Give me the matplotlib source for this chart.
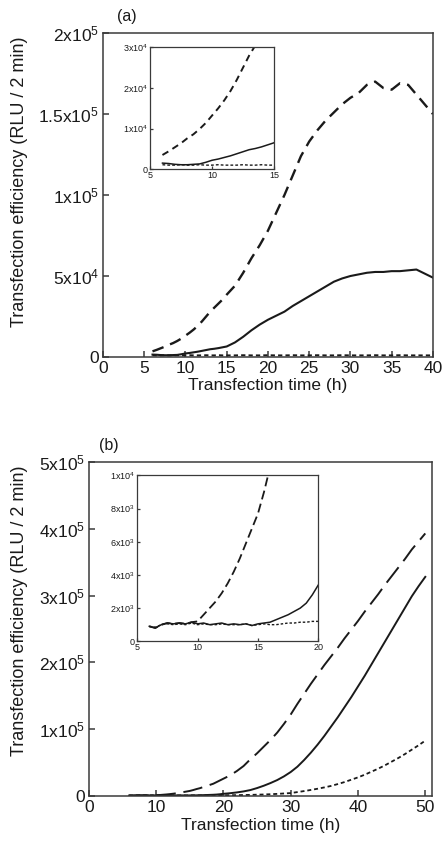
import numpy as np
import matplotlib
matplotlib.use('Agg')
import matplotlib.pyplot as plt

plt.rcParams['font.family'] = ['Liberation Sans', 'DejaVu Sans']
plt.rcParams['mathtext.fontset'] = 'custom'
plt.rcParams['mathtext.rm'] = 'Liberation Sans'
plt.rcParams['mathtext.it'] = 'Liberation Sans'

# ── Panel (a) data (RLU / 2 min, in units of 1e3) ─────────────────────────
a_time = [6, 6.5, 7, 7.5, 8, 8.5, 9, 9.5, 10, 10.5, 11, 11.5, 12, 12.5, 13, 13.5,
          14, 14.5, 15, 16, 17, 18, 19, 20, 21, 22, 23, 24, 25, 26, 27, 28, 29,
          30, 31, 32, 33, 34, 35, 36, 37, 38, 39, 40]
a_dashed = [3.5, 4.4, 5.4, 6.4, 7.6, 8.6, 9.9, 11.4, 13.2, 15.0, 17.0, 19.3, 22.0,
            25.0, 28.0, 30.5, 33.0, 35.5, 38.5, 44, 52, 61, 69, 78, 89, 100, 112,
            124, 133, 140, 146, 151, 156, 160, 163, 168, 170, 166, 165, 169, 168,
            162, 156, 150]
a_solid = [1.5, 1.4, 1.2, 1.1, 1.1, 1.2, 1.3, 1.7, 2.2, 2.5, 2.9, 3.3, 3.8, 4.3,
           4.8, 5.1, 5.5, 6.0, 6.5, 9.0, 12.5, 16.5, 20.0, 23.0, 25.5, 28.0, 31.5,
           34.5, 37.5, 40.5, 43.5, 46.5, 48.5, 50.0, 51.0, 52.0, 52.5, 52.5, 53.0,
           53.0, 53.5, 54.0, 51.5, 49.0]
a_dotted = [1.1, 1.0, 1.0, 1.1, 1.0, 1.0, 1.1, 1.0, 1.0, 1.1, 1.0, 1.0, 1.0, 1.1,
            1.0, 1.0, 1.1, 1.0, 1.0, 1.0, 1.1, 1.0, 1.0, 1.1, 1.0, 1.0, 1.1, 1.0,
            1.0, 1.1, 1.0, 1.0, 1.1, 1.0, 1.0, 1.0, 1.1, 1.0, 1.0, 1.1, 1.0, 1.0,
            1.0, 1.0]

a_yticks = [0, 50e3, 100e3, 150e3, 200e3]
a_ylabels = ['0', r'5x10$^4$', r'1x10$^5$', r'1.5x10$^5$', r'2x10$^5$']
a_xticks = [0, 5, 10, 15, 20, 25, 30, 35, 40]
a_in_yticks = [0, 10e3, 20e3, 30e3]
a_in_ylabels = ['0', r'1x10$^4$', r'2x10$^4$', r'3x10$^4$']
a_in_xticks = [5, 10, 15]

# ── Panel (b) data ────────────────────────────────────────────────────────
b_time = [6, 6.5, 7, 7.5, 8, 8.5, 9, 9.5, 10, 10.5, 11, 11.5, 12, 12.5, 13, 13.5,
          14, 14.5, 15, 15.5, 16, 16.5, 17, 17.5, 18, 18.5, 19, 19.5, 20,
          21, 22, 23, 24, 25, 26, 27, 28, 29, 30, 31, 32, 33, 34, 35, 36, 37, 38,
          39, 40, 41, 42, 43, 44, 45, 46, 47, 48, 49, 50]
b_dashed = [0.9, 0.8, 1.0, 1.1, 1.05, 1.1, 1.05, 1.15, 1.2, 1.6, 2.0, 2.4, 2.9,
            3.5, 4.2, 5.0, 5.9, 6.8, 7.7, 9.0, 10.5, 11.8, 13.5, 15.0, 16.8, 18.5,
            21.0, 23.5, 26.0,
            31, 37.5, 45, 55, 64, 74, 84, 95, 108, 122, 138, 153, 168, 182, 196,
            209, 222, 236, 249, 262, 276, 289, 302, 316, 329, 342, 355, 369, 381,
            393]
b_solid = [0.9, 0.8, 1.0, 1.1, 1.05, 1.1, 1.05, 1.15, 1.05, 1.1, 1.0, 1.05, 1.1,
           1.0, 1.05, 1.0, 1.05, 0.95, 1.05, 1.1, 1.15, 1.3, 1.45, 1.6, 1.8, 2.0,
           2.3, 2.8, 3.4,
           4.3, 5.5, 7.0, 9.0, 12.0, 15.5, 19.5, 24.0, 29.5, 36.0, 44.0, 54.0,
           65.0, 77.0, 90.0, 104, 118, 133, 148, 164, 180, 197, 214, 231, 248,
           265, 282, 299, 314, 328]
b_dotted = [0.9, 0.85, 1.0, 1.05, 1.0, 1.05, 1.0, 1.1, 1.0, 1.05, 1.0, 1.0, 1.05,
            1.0, 1.0, 1.0, 1.05, 0.95, 1.0, 1.05, 1.0, 1.0, 1.05, 1.1, 1.1, 1.15,
            1.15, 1.2, 1.2,
            1.3, 1.4, 1.6, 1.8, 2.1, 2.4, 2.8, 3.3, 3.9, 4.5, 6.0, 7.5, 9.2, 11.0,
            13.0, 15.2, 18.0, 21.0, 24.5, 28.0, 32.0, 36.5, 41.0, 46.0, 51.5,
            57.0, 63.0, 69.5, 76.0, 83.0]

b_yticks = [0, 100e3, 200e3, 300e3, 400e3, 500e3]
b_ylabels = ['0', r'1x10$^5$', r'2x10$^5$', r'3x10$^5$', r'4x10$^5$', r'5x10$^5$']
b_xticks = [0, 10, 20, 30, 40, 50]
b_in_yticks = [0, 2e3, 4e3, 6e3, 8e3, 10e3]
b_in_ylabels = ['0', r'2x10$^3$', r'4x10$^3$', r'6x10$^3$', r'8x10$^3$', r'1x10$^4$']
b_in_xticks = [5, 10, 15, 20]

YLABEL = 'Transfection efficiency (RLU / 2 min)'
XLABEL = 'Transfection time (h)'
INK = '#1a1a1a'


def k(vals):
    return np.asarray(vals) * 1e3


def style_axes(ax, fs, ticklen, lw):
    for s in ax.spines.values():
        s.set_linewidth(lw)
        s.set_color('#3a3a3a')
    ax.tick_params(direction='in', length=ticklen, width=lw, labelsize=fs,
                   colors='#3a3a3a', labelcolor=INK, pad=3)


fig = plt.figure(figsize=(4.44, 8.46), dpi=100)
fig.patch.set_facecolor('white')

# ── (a) main ──────────────────────────────────────────────────────────────
ax = fig.add_axes([0.232, 0.578, 0.743, 0.383])
ax.plot(a_time, k(a_dashed), color=INK, lw=1.7, dashes=(5, 3))
ax.plot(a_time, k(a_solid), color=INK, lw=1.5)
ax.plot(a_time, k(a_dotted), color=INK, lw=1.4, dashes=(2.2, 1.6))
ax.set_xlim(0, 40)
ax.set_ylim(0, 200e3)
ax.set_xticks(a_xticks)
ax.set_yticks(a_yticks)
ax.set_yticklabels(a_ylabels)
style_axes(ax, 12.5, 4, 1.1)
ax.set_xlabel(XLABEL, fontsize=12.5, color=INK, labelpad=1)
ax.set_ylabel(YLABEL, fontsize=13, color=INK)
ax.yaxis.set_label_coords(-0.227, 0.54)
fig.text(127 / 444, 1 - 17 / 846, '(a)', fontsize=11.5, color=INK, ha='center', va='center')

# ── (a) inset ─────────────────────────────────────────────────────────────
ai = fig.add_axes([0.338, 0.800, 0.279, 0.144])
ai.plot(a_time, k(a_dashed), color=INK, lw=1.4, dashes=(3.5, 2.5))
ai.plot(a_time, k(a_solid), color=INK, lw=1.1)
ai.plot(a_time, k(a_dotted), color=INK, lw=1.0, dashes=(2, 1.5))
ai.set_xlim(5, 15)
ai.set_ylim(0, 30e3)
ai.set_xticks(a_in_xticks)
ai.set_yticks(a_in_yticks)
ai.set_yticklabels(a_in_ylabels)
style_axes(ai, 6.5, 2.5, 0.9)
ai.tick_params(pad=1.5)

# ── (b) main ──────────────────────────────────────────────────────────────
bx = fig.add_axes([0.200, 0.059, 0.773, 0.395])
bx.plot(b_time, k(b_dashed), color=INK, lw=1.4, dashes=(10, 4))
bx.plot(b_time, k(b_solid), color=INK, lw=1.4)
bx.plot(b_time, k(b_dotted), color=INK, lw=1.3, dashes=(2.2, 1.6))
bx.set_xlim(0, 51)
bx.set_ylim(0, 500e3)
bx.set_xticks(b_xticks)
bx.set_yticks(b_yticks)
bx.set_yticklabels(b_ylabels)
style_axes(bx, 12.5, 4, 1.1)
bx.set_xlabel(XLABEL, fontsize=12.5, color=INK, labelpad=2)
bx.set_ylabel(YLABEL, fontsize=13, color=INK)
bx.yaxis.set_label_coords(-0.178, 0.554)
fig.text(109 / 444, 1 - 445 / 846, '(b)', fontsize=11.5, color=INK, ha='center', va='center')

# ── (b) inset ─────────────────────────────────────────────────────────────
bi = fig.add_axes([0.309, 0.242, 0.408, 0.196])
bi.plot(b_time, k(b_dashed), color=INK, lw=1.3, dashes=(5, 2.5))
bi.plot(b_time, k(b_solid), color=INK, lw=1.1)
bi.plot(b_time, k(b_dotted), color=INK, lw=1.0, dashes=(1.8, 1.4))
bi.set_xlim(5, 20)
bi.set_ylim(0, 10e3)
bi.set_xticks(b_in_xticks)
bi.set_yticks(b_in_yticks)
bi.set_yticklabels(b_in_ylabels)
style_axes(bi, 6.5, 2.5, 0.9)
bi.tick_params(pad=1.5)

fig.savefig('out.png', dpi=100)
